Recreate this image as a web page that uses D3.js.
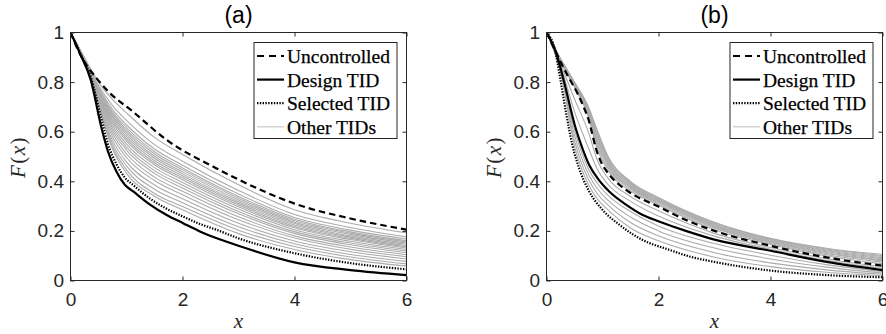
<!DOCTYPE html>
<html>
<head>
<meta charset="utf-8">
<script src="https://cdn.jsdelivr.net/npm/d3@7"></script>
<style>
  body { margin: 0; background: #fff; }
  svg { display: block; }
</style>
</head>
<body>
<svg id="chart" width="886" height="334"></svg>
<script>
// ---- data ----------------------------------------------------------
const panelTitles = ["(a)", "(b)"];
const legendLabels = ["Uncontrolled", "Design TID", "Selected TID", "Other TIDs"];
const xTicks = [0, 2, 4, 6];
const xTickLabels = ["0", "2", "4", "6"];
const yTicks = [0, 0.2, 0.4, 0.6, 0.8, 1];
const yTickLabels = ["0", "0.2", "0.4", "0.6", "0.8", "1"];

// panel (a): main curves, each sampled at its own x positions
const xUncA = [0, 0.2, 0.46, 0.64, 1.12, 1.71, 2.6, 3, 3.5, 4, 5, 6];
const uncA  = [1, .900, .817, .770, .680, .568, .453, .407, .355, .310, .250, .205];
const xDesA = [0, 0.17, 0.36, 0.554, 0.67, 0.82, 0.97, 1.12, 1.42, 1.71, 2.01, 2.31, 2.6, 3, 4, 5, 6];
const desA  = [1, .915, .810, .615, .520, .440, .386, .359, .306, .265, .231, .198, .171, .140, .073, .042, .022];
const xSelA = [0, 0.17, 0.36, 0.554, 0.67, 0.82, 0.97, 1.12, 1.42, 1.71, 2.01, 2.31, 2.6, 3, 4, 5, 6];
const selA  = [1, .917, .822, .650, .550, .470, .415, .385, .330, .290, .258, .228, .205, .170, .110, .070, .045];
// panel (a): other TIDs
const xOtherA = [0, 0.25, 0.5, 0.75, 1, 1.5, 2, 3, 4, 5, 6];
const otherA = [
  [1, .898, .800, .730, .676, .577, .508, .386, .285, .231, .192],
  [1, .896, .787, .705, .646, .548, .481, .363, .266, .214, .176],
  [1, .895, .779, .690, .628, .530, .465, .349, .254, .203, .167],
  [1, .894, .774, .680, .616, .519, .454, .339, .247, .196, .160],
  [1, .894, .770, .673, .607, .510, .446, .332, .241, .191, .155],
  [1, .893, .766, .665, .598, .501, .438, .325, .235, .186, .151],
  [1, .893, .762, .658, .589, .493, .430, .318, .230, .180, .146],
  [1, .892, .758, .650, .580, .484, .422, .311, .224, .175, .141],
  [1, .891, .754, .643, .571, .475, .414, .304, .218, .170, .136],
  [1, .891, .750, .635, .562, .467, .406, .297, .213, .165, .131],
  [1, .890, .745, .625, .550, .455, .395, .288, .205, .158, .125],
  [1, .889, .740, .615, .538, .443, .384, .278, .197, .151, .119],
  [1, .888, .735, .605, .526, .432, .373, .269, .190, .144, .112],
  [1, .887, .728, .593, .511, .417, .360, .257, .180, .135, .104],
  [1, .886, .722, .580, .496, .403, .346, .245, .171, .126, .096],
  [1, .885, .716, .565, .478, .385, .330, .231, .159, .116, .087],
  [1, .884, .712, .552, .462, .368, .314, .217, .148, .105, .077],
  [1, .883, .708, .540, .446, .351, .298, .203, .137, .095, .067],
  [1, .882, .705, .530, .432, .340, .285, .189, .125, .084, .058]
];

// panel (b): main curves
const xUncB = [0, 0.17, 0.29, 0.4, 0.55, 0.67, 0.76, 0.82, 0.88, 0.97, 1.12, 1.3, 1.5, 2, 2.5, 3, 4, 5, 6];
const uncB  = [1, .920, .864, .817, .756, .696, .642, .588, .534, .480, .427, .386, .353, .298, .243, .200, .140, .093, .060];
const xDesB = [0, 0.17, 0.315, 0.52, 0.64, 0.76, 0.91, 1.12, 1.42, 1.71, 2.01, 2.5, 3, 4, 5, 6];
const desB  = [1, .920, .800, .615, .534, .467, .413, .359, .306, .265, .238, .199, .165, .120, .075, .042];
const xSelB = [0, 0.15, 0.256, 0.345, 0.46, 0.58, 0.76, 1.0, 1.3, 1.71, 2.19, 2.55, 3, 4, 5, 6];
const selB  = [1, .930, .800, .682, .548, .454, .360, .285, .225, .164, .124, .097, .075, .040, .022, .013];
// panel (b): other TIDs
const xOtherB = [0, 0.25, 0.5, 0.75, 0.9, 1.1, 1.5, 2, 3, 4, 5, 6];
const otherB = [
  [1, .840, .542, .386, .331, .284, .212, .160, .094, .056, .033, .019],
  [1, .845, .564, .407, .352, .304, .234, .180, .112, .071, .043, .025],
  [1, .850, .586, .428, .373, .323, .256, .200, .131, .087, .054, .030],
  [1, .855, .608, .449, .394, .343, .278, .220, .149, .102, .064, .036],
  [1, .867, .681, .534, .452, .387, .319, .260, .179, .126, .081, .048],
  [1, .874, .732, .597, .489, .412, .339, .281, .190, .133, .088, .055],
  [1, .882, .779, .659, .534, .443, .362, .304, .205, .145, .099, .067],
  [1, .885, .783, .666, .547, .453, .369, .309, .211, .149, .104, .074],
  [1, .886, .786, .672, .558, .461, .374, .314, .215, .153, .109, .079],
  [1, .888, .788, .677, .567, .468, .378, .317, .218, .156, .112, .083],
  [1, .889, .791, .682, .576, .475, .383, .321, .222, .159, .116, .088],
  [1, .891, .793, .687, .585, .481, .387, .325, .225, .162, .120, .092],
  [1, .892, .796, .691, .594, .488, .392, .328, .229, .165, .123, .097],
  [1, .894, .798, .696, .603, .495, .396, .332, .232, .168, .127, .101],
  [1, .895, .800, .700, .610, .500, .400, .335, .235, .170, .130, .105]
];

// ---- layout --------------------------------------------------------
const svg = d3.select("#chart");
const axisColor = "#262626";
const sansFont = "'Liberation Sans', Arial, Helvetica, sans-serif";
const serifFont = "'Liberation Serif', 'Times New Roman', serif";
const plotW = 336, plotTop = 32.5, plotBottom = 280.5;
const panels = [
  { title: panelTitles[0], left: 70.5,
    unc: [xUncA, uncA], des: [xDesA, desA], sel: [xSelA, selA], xOther: xOtherA, others: otherA },
  { title: panelTitles[1], left: 546.5,
    unc: [xUncB, uncB], des: [xDesB, desB], sel: [xSelB, selB], xOther: xOtherB, others: otherB }
];

const styles = {
  unc:   { stroke: "#000", width: 2.2, dash: "6.5,4" },
  des:   { stroke: "#000", width: 2.2, dash: null },
  sel:   { stroke: "#000", width: 2.2, dash: "1.4,1.4" },
  other: { stroke: "#ababab", width: 1.1, dash: null }
};

panels.forEach((p, i) => {
  const x = d3.scaleLinear().domain([0, 6]).range([p.left, p.left + plotW]);
  const y = d3.scaleLinear().domain([0, 1]).range([plotBottom, plotTop]);
  const g = svg.append("g");

  const clipId = "clip" + i;
  svg.append("clipPath").attr("id", clipId)
    .append("rect").attr("x", p.left).attr("y", plotTop)
    .attr("width", plotW).attr("height", plotBottom - plotTop);

  const plot = g.append("g").attr("clip-path", `url(#${clipId})`);
  function draw(xs, values, st) {
    const line = d3.line()
      .x((d, k) => x(xs[k]))
      .y(d => y(d))
      .curve(d3.curveMonotoneX);
    plot.append("path")
      .attr("d", line(values))
      .attr("fill", "none")
      .attr("stroke", st.stroke)
      .attr("stroke-width", st.width)
      .attr("stroke-dasharray", st.dash)
      .attr("stroke-linejoin", "round");
  }
  p.others.forEach(v => draw(p.xOther, v, styles.other));
  draw(p.unc[0], p.unc[1], styles.unc);
  draw(p.des[0], p.des[1], styles.des);
  draw(p.sel[0], p.sel[1], styles.sel);

  // axes (ticks point inward)
  const axes = g.append("g");
  const ax = (gen, tr) => {
    const a = axes.append("g").attr("transform", tr).call(gen);
    a.selectAll(".domain").remove();
    a.selectAll("line").attr("stroke", axisColor);
    a.selectAll("text").attr("fill", axisColor).attr("font-size", 19)
      .attr("font-family", sansFont);
    return a;
  };
  ax(d3.axisBottom(x).tickValues(xTicks).tickFormat((d, k) => xTickLabels[k])
        .tickSizeInner(-4).tickSizeOuter(0).tickPadding(12),
     `translate(0,${plotBottom})`);
  ax(d3.axisTop(x).tickValues(xTicks).tickFormat("").tickSizeInner(-4).tickSizeOuter(0),
     `translate(0,${plotTop})`);
  ax(d3.axisLeft(y).tickValues(yTicks).tickFormat((d, k) => yTickLabels[k])
        .tickSizeInner(-4).tickSizeOuter(0).tickPadding(6.5),
     `translate(${p.left},0)`);
  ax(d3.axisRight(y).tickValues(yTicks).tickFormat("").tickSizeInner(-4).tickSizeOuter(0),
     `translate(${p.left + plotW},0)`);

  // frame
  g.append("rect")
    .attr("x", p.left).attr("y", plotTop)
    .attr("width", plotW).attr("height", plotBottom - plotTop)
    .attr("fill", "none").attr("stroke", axisColor).attr("stroke-width", 1);

  // title
  g.append("text")
    .attr("x", p.left + plotW / 2).attr("y", 23)
    .attr("text-anchor", "middle")
    .attr("font-family", sansFont)
    .attr("font-size", 23).attr("fill", "#000")
    .text(p.title);

  // x label
  g.append("text")
    .attr("x", p.left + plotW / 2).attr("y", 328)
    .attr("text-anchor", "middle")
    .attr("font-family", serifFont)
    .attr("font-style", "italic")
    .attr("font-size", 21).attr("fill", axisColor)
    .text("x");

  // y label F(x)
  const yl = g.append("text")
    .attr("transform", `translate(${p.left - 46},157) rotate(-90)`)
    .attr("text-anchor", "middle")
    .attr("font-family", serifFont)
    .attr("font-size", 21).attr("fill", axisColor)
    .attr("letter-spacing", 1.5);
  yl.append("tspan").attr("font-style", "italic").text("F");
  yl.append("tspan").text("(");
  yl.append("tspan").attr("font-style", "italic").text("x");
  yl.append("tspan").text(")");

  // legend
  const lx = p.left + 183.5, ly = 42.5;
  const lg = g.append("g");
  lg.append("rect")
    .attr("x", lx).attr("y", ly).attr("width", 143).attr("height", 96)
    .attr("fill", "#fff").attr("stroke", axisColor).attr("stroke-width", 1);
  const entries = [
    { label: legendLabels[0], st: { stroke: "#000", width: 2.2, dash: "7,5" } },
    { label: legendLabels[1], st: styles.des },
    { label: legendLabels[2], st: styles.sel },
    { label: legendLabels[3], st: { stroke: "#c8c8c8", width: 1.2, dash: null } }
  ];
  entries.forEach((e, k) => {
    const ry = 56 + k * 23.6;
    lg.append("line")
      .attr("x1", lx + 3).attr("x2", lx + 30)
      .attr("y1", ry).attr("y2", ry)
      .attr("stroke", e.st.stroke).attr("stroke-width", e.st.width)
      .attr("stroke-dasharray", e.st.dash);
    lg.append("text")
      .attr("x", lx + 33).attr("y", ry + 7)
      .attr("font-family", serifFont)
      .attr("font-size", 19.5).attr("fill", "#000")
      .attr("stroke", "#000").attr("stroke-width", 0.25)
      .text(e.label);
  });
});
</script>
</body>
</html>
